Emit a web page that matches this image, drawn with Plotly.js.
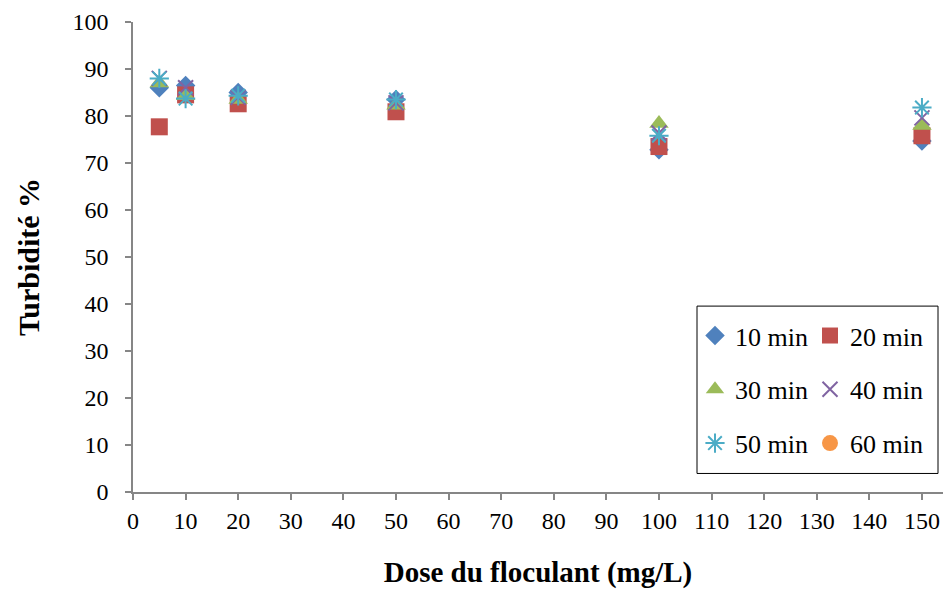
<!DOCTYPE html>
<html>
<head>
<meta charset="utf-8">
<script src="https://cdn.plot.ly/plotly-3.0.1.min.js"></script>
<style>html,body{margin:0;padding:0;background:#fff;}#chart{width:943px;height:589px;}</style>
</head>
<body>
<div id="chart"></div>
<script>
const doses = [5, 10, 20, 50, 100, 150];
const seriesNames = ["10 min", "20 min", "30 min", "40 min", "50 min", "60 min"];
const y10 = [86.0, 86.5, 85.0, 83.5, 72.8, 74.7];
const y20 = [77.7, 84.5, 82.6, 80.9, 73.5, 75.8];
const y30 = [87.0, 84.3, 83.5, 82.3, 78.4, 78.0];
const y40 = [88.0, 86.0, 84.0, 82.8, 76.4, 79.6];
const y50 = [88.0, 83.7, 84.3, 83.5, 75.8, 81.8];
const y60 = [null, null, null, null, null, null];
const xTicks = [0, 10, 20, 30, 40, 50, 60, 70, 80, 90, 100, 110, 120, 130, 140, 150];
const yTicks = [0, 10, 20, 30, 40, 50, 60, 70, 80, 90, 100];

const SERIF = "'Times New Roman', 'Liberation Serif', serif";
const styles = [
  {symbol: "diamond", color: "#4F81BD", size: 15, legend: "legend"},
  {symbol: "square", color: "#C0504D", size: 17, legend: "legend2"},
  {symbol: "triangle-up", color: "#9BBB59", size: 17, legend: "legend"},
  {symbol: "x-thin-open", color: "#8064A2", size: 15, legend: "legend2"},
  {symbol: "asterisk-open", color: "#4BACC6", size: 16, legend: "legend"},
  {symbol: "circle", color: "#F79646", size: 17, legend: "legend2"}
];
const values = [y10, y20, y30, y40, y50, y60];

const traces = values.map((v, i) => ({
  type: "scatter",
  mode: "markers",
  x: doses,
  y: v,
  name: seriesNames[i],
  legend: styles[i].legend,
  legendgroup: "g" + i,
  marker: {
    symbol: styles[i].symbol,
    color: styles[i].color,
    size: styles[i].size,
    line: {color: styles[i].color, width: styles[i].symbol.indexOf("open") >= 0 ? 2 : 0}
  },
  hoverinfo: "x+y+name"
}));

const axisGray = "#868686";
const legendCommon = {
  font: {family: SERIF, size: 26, color: "#000", weight: "normal"},
  bgcolor: "rgba(0,0,0,0)",
  borderwidth: 0,
  traceorder: "grouped",
  tracegroupgap: 17,
  yanchor: "top",
  xanchor: "left",
  itemwidth: 30
};

const layout = {
  width: 943,
  height: 589,
  margin: {l: 133, r: 0, t: 22, b: 97},
  paper_bgcolor: "#fff",
  plot_bgcolor: "#fff",
  font: {family: SERIF, size: 24, color: "#000"},
  showlegend: true,
  xaxis: {
    range: [0, 154],
    tickvals: xTicks,
    ticktext: xTicks.map(String),
    ticks: "outside",
    ticklen: 6,
    tickwidth: 1.5,
    tickcolor: axisGray,
    showline: true,
    linecolor: axisGray,
    linewidth: 1.5,
    showgrid: false,
    zeroline: false,
    tickfont: {family: SERIF, size: 24, color: "#000", weight: "normal"},
    title: {text: "Dose du floculant (mg/L)", font: {size: 29, family: SERIF, weight: "bold", color: "#000"}, standoff: 30},
    automargin: false
  },
  yaxis: {
    range: [0, 100],
    tickvals: yTicks,
    ticktext: yTicks.map(String),
    ticks: "outside",
    ticklen: 6,
    tickwidth: 1.5,
    tickcolor: axisGray,
    showline: true,
    linecolor: axisGray,
    linewidth: 1.5,
    showgrid: false,
    zeroline: false,
    tickfont: {family: SERIF, size: 24, color: "#000", weight: "normal"},
    ticklabelstandoff: 12,
    title: {text: "Turbidité %", font: {size: 30, family: SERIF, weight: "bold", color: "#000"}, standoff: 24},
    automargin: false
  },
  legend: Object.assign({x: (695 - 133) / 810, y: (491.5 - 312) / 469}, legendCommon),
  legend2: Object.assign({x: (810 - 133) / 810, y: (491.5 - 312) / 469}, legendCommon),
  shapes: [{
    type: "rect", xref: "paper", yref: "paper",
    x0: (697 - 133) / 810, x1: (938 - 133) / 810,
    y0: (491.5 - 473) / 469, y1: (491.5 - 306) / 469,
    line: {color: "#000", width: 1}, fillcolor: "rgba(255,255,255,0)", layer: "above"
  }]
};

Plotly.newPlot("chart", traces, layout, {displayModeBar: false});
</script>
</body>
</html>
